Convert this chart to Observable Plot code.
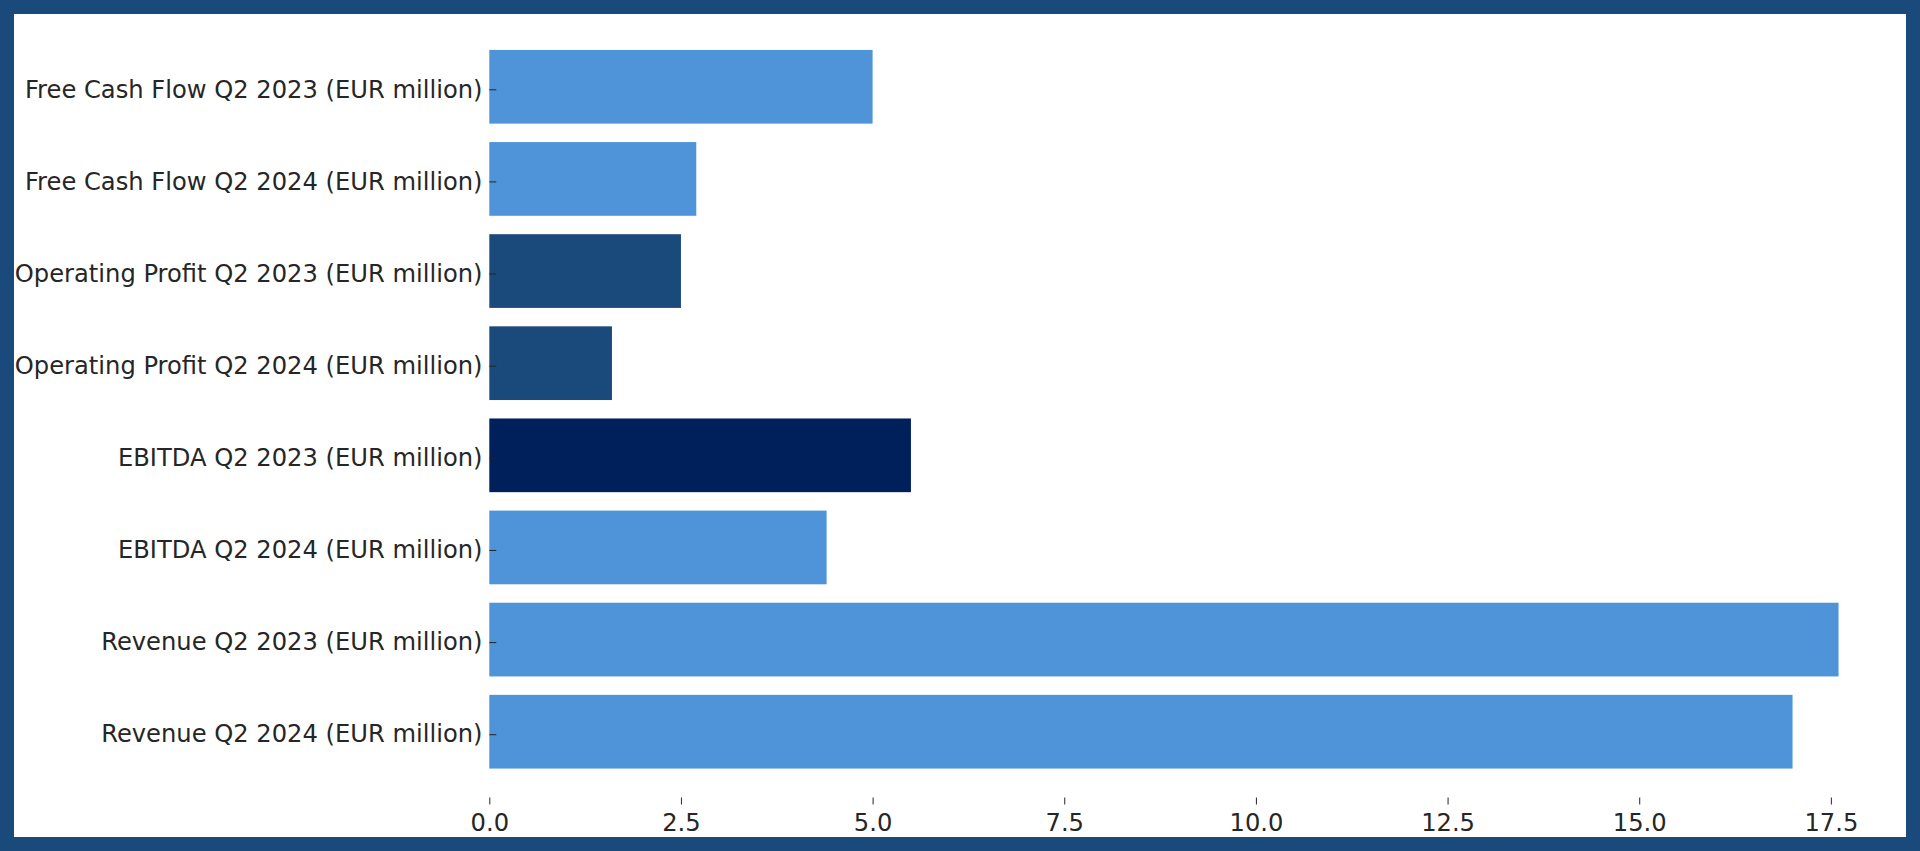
<!DOCTYPE html>
<html>
<head>
<meta charset="utf-8">
<script src="https://cdn.jsdelivr.net/npm/d3@7"></script>
<script src="https://cdn.jsdelivr.net/npm/@observablehq/plot@0.6"></script>
<style>
  html, body { margin: 0; padding: 0; background: #1a4a7c; }
  #frame { width: 1920px; height: 851px; box-sizing: border-box; border: 14px solid #1a4a7c; background: #ffffff; overflow: hidden; }
  #frame svg { display: block; }
</style>
</head>
<body>
<div id="frame"></div>
<script>
const categories = [
  "Free Cash Flow Q2 2023 (EUR million)",
  "Free Cash Flow Q2 2024 (EUR million)",
  "Operating Profit Q2 2023 (EUR million)",
  "Operating Profit Q2 2024 (EUR million)",
  "EBITDA Q2 2023 (EUR million)",
  "EBITDA Q2 2024 (EUR million)",
  "Revenue Q2 2023 (EUR million)",
  "Revenue Q2 2024 (EUR million)"
];
const values = [5.0, 2.7, 2.5, 1.6, 5.5, 4.4, 17.6, 17.0];
const groups = ["base", "base", "operating", "operating", "ebitda2023", "base", "base", "base"];
const xTicks = [0, 2.5, 5, 7.5, 10, 12.5, 15, 17.5];

const data = categories.map((c, i) => ({label: c, value: values[i], group: groups[i]}));

const chart = Plot.plot({
  width: 1892,
  height: 823,
  marginLeft: 475.3,
  marginRight: 0,
  marginTop: 0,
  marginBottom: 32.5,
  style: {fontFamily: "'DejaVu Sans', sans-serif", fontSize: "24.2px", color: "#262626", background: "#ffffff", overflow: "visible"},
  x: {domain: [0, 18.48], label: null},
  y: {domain: categories, paddingInner: 0.2, paddingOuter: 0.39, round: false, label: null},
  color: {domain: ["base", "operating", "ebitda2023"], range: ["#4f94d8", "#1a4a7c", "#00205c"]},
  marks: [
    Plot.barX(data, {x: "value", y: "label", fill: "group"}),
    Plot.axisX({ticks: xTicks, tickFormat: d3.format(".1f"), tickSize: -7, tickPadding: 15.5, label: null, stroke: "#262626"}),
    Plot.axisY({tickSize: -7, tickPadding: 14.3, dy: 2.5, label: null, stroke: "#262626"})
  ]
});
document.getElementById("frame").appendChild(chart);
</script>
</body>
</html>
